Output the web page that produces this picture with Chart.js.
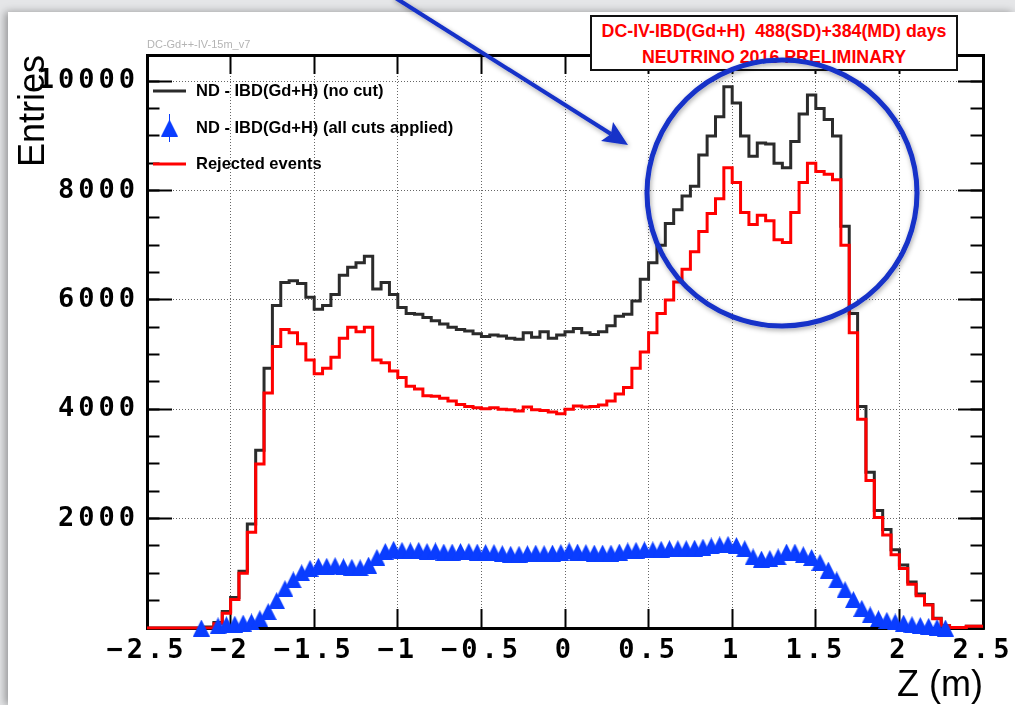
<!DOCTYPE html>
<html>
<head>
<meta charset="utf-8">
<title>DC-IV-IBD Z distribution</title>
<script src="https://cdn.jsdelivr.net/npm/chart.js@4.4.1/dist/chart.umd.min.js"></script>
<style>
    html, body { margin: 0; padding: 0; }
    body {
        width: 1015px; height: 705px; overflow: hidden; position: relative;
        background: #e5e6e8;
        font-family: "Liberation Sans", Arial, sans-serif;
    }
    #card {
        position: absolute; left: 8px; top: 12px; width: 1007px; height: 693px;
        background: #fff; box-shadow: -3px 0 8px rgba(0, 0, 0, 0.35);
    }
    #zChart { position: absolute; left: 0; top: 0; }
    #tag {
        position: absolute; left: 147px; top: 38px;
        font-size: 11px; color: #b4b4b4; white-space: nowrap;
    }
    #titleBox {
        position: absolute; left: 590px; top: 15px; width: 368px; height: 56px;
        box-sizing: border-box; border: 2px solid #111; background: #fff;
        color: #ff0000; font-weight: bold; font-size: 17.8px;
        text-align: center; line-height: 26px; padding-top: 1px; white-space: pre;
    }
    #marks { position: absolute; left: 0; top: 0; }
</style>
</head>
<body>
<div id="card"></div>
<canvas id="zChart" width="1015" height="705"></canvas>
<div id="tag">DC-Gd++-IV-15m_v7</div>
<div id="titleBox"><div>DC-IV-IBD(Gd+H)  488(SD)+384(MD) days</div><div>NEUTRINO 2016 PRELIMINARY</div></div>
<svg id="marks" width="1015" height="705">
    <defs>
        <filter id="soft" x="-20%" y="-20%" width="140%" height="140%">
            <feDropShadow dx="1" dy="2" stdDeviation="2.5" flood-color="#000" flood-opacity="0.35"/>
        </filter>
    </defs>
    <ellipse cx="782" cy="193" rx="135" ry="133" fill="none" stroke="#1430c8" stroke-width="5" filter="url(#soft)"/>
    <g filter="url(#soft)">
        <line x1="394" y1="-3" x2="611" y2="134" stroke="#1430c8" stroke-width="4"/>
        <polygon points="628,145 601,141 611,134 613,122" fill="#1430c8"/>
    </g>
</svg>

<script>
// histogram binning of Z (m)
const zMin = -2.5;
const zMax = 2.5;
const binWidth = 0.05;
const yMax = 10480;

// x tick labels every 0.5 m, y labels every 2000 entries (minor ticks every 500)
const xTickStep = 0.5;
const yMajorStep = 2000;
const yMinorStep = 500;

const legendLabels = [
    'ND - IBD(Gd+H) (no cut)',
    'ND - IBD(Gd+H) (all cuts applied)',
    'Rejected events'
];

// ND - IBD(Gd+H) (no cut), 100 bins from -2.5 to 2.5
const noCut = [
    0, 0, 0, 0, 0, 0, 0, 0, 20, 100,
    300, 560, 1040, 1900, 3250, 4750, 5900, 6320, 6350, 6300,
    6050, 5830, 5900, 6100, 6450, 6600, 6680, 6800, 6200, 6320,
    6100, 5860, 5750, 5740, 5680, 5620, 5560, 5500, 5460, 5430,
    5380, 5330, 5360, 5340, 5300, 5280, 5400, 5320, 5420, 5300,
    5360, 5420, 5480, 5400, 5370, 5420, 5530, 5700, 5740, 5980,
    6380, 6680, 7000, 7400, 7650, 7900, 8080, 8650, 9000, 9350,
    9900, 9600, 9000, 8630, 8870, 8850, 8500, 8420, 8900, 9400,
    9750, 9500, 9300, 9000, 7350, 5750, 4050, 2850, 2150, 1800,
    1430, 1150, 840, 620, 430, 180, 40, 10, 10, 30
];

// Rejected events
const rejected = [
    0, 0, 0, 0, 0, 0, 0, 0, 0, 80,
    270, 520, 1000, 1750, 3000, 4300, 5150, 5460, 5400, 5200,
    4900, 4650, 4750, 4950, 5300, 5500, 5420, 5500, 4900, 4850,
    4700, 4580, 4420, 4370, 4250, 4240, 4200, 4150, 4090, 4050,
    4030, 4010, 4030, 4000, 3990, 3970, 4040, 3990, 3980, 3950,
    3920, 4000, 4060, 4040, 4050, 4080, 4150, 4280, 4400, 4750,
    5050, 5400, 5750, 6000, 6330, 6560, 6880, 7250, 7580, 7850,
    8420, 8150, 7600, 7380, 7550, 7450, 7100, 7050, 7600, 8150,
    8500, 8350, 8300, 8200, 7000, 5400, 3820, 2700, 2020, 1700,
    1340, 1090, 800, 590, 420, 170, 40, 10, 10, 30
];

// ND - IBD(Gd+H) (all cuts applied), null = no marker
const allCuts = [
    null, null, null, null, null, null, 0, null, 40, 60,
    70, 90, 110, 170, 300, 500, 720, 880, 1010, 1090,
    1130, 1130, 1140, 1120, 1110, 1100, 1150, 1290, 1400, 1440,
    1420, 1410, 1420, 1400, 1410, 1390, 1390, 1400, 1400, 1390,
    1380, 1380, 1360, 1350, 1350, 1360, 1370, 1360, 1370, 1380,
    1410, 1390, 1380, 1370, 1370, 1370, 1390, 1410, 1420, 1430,
    1430, 1440, 1450, 1450, 1450, 1460, 1480, 1500, 1520, 1530,
    1510, 1450, 1300, 1260, 1270, 1300, 1390, 1390, 1340, 1290,
    1200, 1060, 880, 700, 520, 360, 240, 170, 140, 110,
    90, 60, 45, 30, 10, 0, null, null, null, null
];

// step line through the bin edges (last edge repeats the last bin)
function histPoints(values) {
    const pts = values.map((v, i) => ({ x: zMin + i * binWidth, y: v }));
    pts.push({ x: zMax, y: values[values.length - 1] });
    return pts;
}

// markers at the bin centres
function markerPoints(values) {
    return values.map((v, i) => ({ x: zMin + (i + 0.5) * binWidth, y: v }));
}

// ROOT style full triangle marker
function triangleMarker(w, h, color) {
    const c = document.createElement('canvas');
    c.width = w;
    c.height = h;
    const g = c.getContext('2d');
    g.fillStyle = color;
    g.beginPath();
    g.moveTo(w / 2, 0);
    g.lineTo(w, h);
    g.lineTo(0, h);
    g.closePath();
    g.fill();
    return c;
}

function formatZ(v) {
    const n = Number(v.toFixed(1));
    return n < 0 ? '\u2212' + (-n) : String(n);
}

// the tick font of the original is widely spaced
function spaceLabels(scale) {
    if (scale._spaced) return;
    const draw = scale.drawLabels.bind(scale);
    scale.drawLabels = function (area) {
        this.ctx.save();
        this.ctx.letterSpacing = '4px';
        draw(area);
        this.ctx.restore();
    };
    scale._spaced = true;
}

// fixed frame: no extra room for the end labels
function fixHeight(h) {
    return s => {
        s.height = h;
        s.paddingLeft = 0;
        s.paddingRight = 0;
    };
}

function fixWidth(w) {
    return s => {
        s.width = w;
        s.paddingTop = 0;
        s.paddingBottom = 0;
    };
}

// y axes: only max is given (min+max+stepSize makes chart.js spread the ticks evenly)
function yAxis(position, weight, step, tickLength, width, extra) {
    return Object.assign({
        type: 'linear', axis: 'y', position: position, weight: weight,
        beginAtZero: true, max: yMax,
        ticks: { display: false, includeBounds: false, autoSkip: false, stepSize: step },
        grid: { drawOnChartArea: false, tickLength: tickLength, tickColor: '#000', tickWidth: 2 },
        border: frame,
        afterFit: fixWidth(width)
    }, extra || {});
}

const blueColor = '#0a3dff';
const blackColor = '#2b2b2b';
const redColor = '#ff0000';
const blueMarker = triangleMarker(17, 17, blueColor);

const tickFont = { family: '"DejaVu Sans Mono", monospace', size: 27, weight: 'bold' };
const titleFont = { family: '"Liberation Sans", Arial, sans-serif', size: 36, lineHeight: 1 };
const frame = { display: true, color: '#000', width: 3, dash: [1, 2] };

// legend drawn inside the frame, like the ROOT TLegend
const rootLegend = {
    id: 'rootLegend',
    afterDatasetsDraw(chart) {
        const ctx = chart.ctx;
        const left = chart.chartArea.left;
        const top = chart.chartArea.top;
        const rows = [top + 36, top + 73, top + 109];

        ctx.save();
        ctx.letterSpacing = '0px';
        ctx.lineWidth = 3;

        ctx.strokeStyle = blackColor;
        ctx.beginPath();
        ctx.moveTo(left + 6, rows[0]);
        ctx.lineTo(left + 39, rows[0]);
        ctx.stroke();

        ctx.strokeStyle = blueColor;
        ctx.lineWidth = 1;
        ctx.beginPath();
        ctx.moveTo(left + 22.5, rows[1] - 14);
        ctx.lineTo(left + 22.5, rows[1] + 14);
        ctx.stroke();
        ctx.drawImage(blueMarker, left + 22.5 - blueMarker.width / 2, rows[1] - blueMarker.height / 2);

        ctx.strokeStyle = redColor;
        ctx.lineWidth = 3;
        ctx.beginPath();
        ctx.moveTo(left + 6, rows[2]);
        ctx.lineTo(left + 39, rows[2]);
        ctx.stroke();

        ctx.fillStyle = '#000';
        ctx.font = 'bold 16.5px "Liberation Sans", Arial, sans-serif';
        ctx.textBaseline = 'middle';
        legendLabels.forEach((label, i) => ctx.fillText(label, left + 49, rows[i]));
        ctx.restore();
    }
};

new Chart(document.getElementById('zChart').getContext('2d'), {
    type: 'line',
    data: {
        datasets: [
            {
                label: legendLabels[1],
                data: markerPoints(allCuts),
                showLine: false,
                pointStyle: blueMarker,
                pointRadius: 8,
                clip: false,
                order: 1
            },
            {
                label: legendLabels[2],
                data: histPoints(rejected),
                stepped: 'after',
                borderColor: redColor,
                borderWidth: 3,
                pointRadius: 0,
                fill: false,
                order: 2
            },
            {
                label: legendLabels[0],
                data: histPoints(noCut),
                stepped: 'after',
                borderColor: blackColor,
                borderWidth: 3,
                pointRadius: 0,
                fill: false,
                order: 3
            }
        ]
    },
    options: {
        responsive: false,
        devicePixelRatio: 1,
        animation: false,
        events: [],
        layout: { padding: 0 },
        plugins: {
            legend: { display: false },
            tooltip: { enabled: false }
        },
        scales: {
            x: {
                type: 'linear', axis: 'x', position: 'bottom', min: zMin, max: zMax,
                ticks: {
                    stepSize: xTickStep, autoSkip: false, maxRotation: 0,
                    font: tickFont, color: '#000', padding: 26,
                    callback: v => formatZ(v)
                },
                grid: { color: '#666', lineWidth: 1, tickLength: -19, tickColor: '#000', tickWidth: 2 },
                border: frame,
                title: {
                    display: true, text: 'Z (m)', align: 'end', font: titleFont, color: '#000',
                    padding: { top: 0, bottom: 1 }
                },
                afterFit: fixHeight(77),
                afterUpdate: spaceLabels
            },
            xTop: {
                type: 'linear', axis: 'x', position: 'top', min: zMin, max: zMax,
                ticks: { display: false, stepSize: xTickStep },
                grid: { drawOnChartArea: false, tickLength: -19, tickColor: '#000', tickWidth: 2 },
                border: frame,
                afterFit: fixHeight(55)
            },
            y: yAxis('left', 1, yMajorStep, -25, 147, {
                ticks: {
                    stepSize: yMajorStep, includeBounds: false, autoSkip: false,
                    font: tickFont, color: '#000', padding: 33,
                    callback: v => (v === 0 ? '' : String(v))
                },
                grid: { color: '#666', lineWidth: 1, tickLength: -25, tickColor: '#000', tickWidth: 2 },
                title: {
                    display: true, text: 'Entries', align: 'end', font: titleFont, color: '#000',
                    padding: { top: 16, bottom: 0 }
                },
                afterUpdate: spaceLabels
            }),
            yMinor: yAxis('left', 0, yMinorStep, -12.5, 0),
            yRight: yAxis('right', 1, yMajorStep, -25, 32),
            yRightMinor: yAxis('right', 0, yMinorStep, -12.5, 0)
        }
    },
    plugins: [rootLegend]
});
</script>
</body>
</html>
